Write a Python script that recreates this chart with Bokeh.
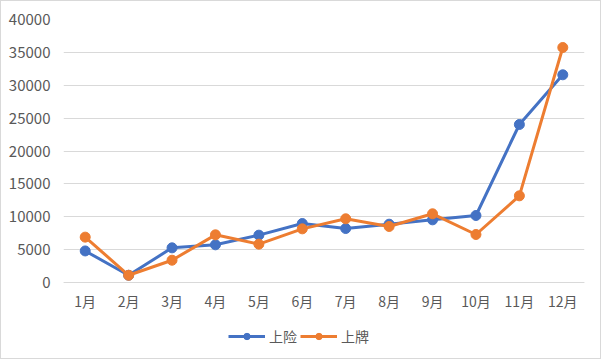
from bokeh.plotting import figure
from bokeh.models import FixedTicker, NumeralTickFormatter, Legend, LegendItem, Range1d, FactorRange
from bokeh.embed import file_html
from bokeh.resources import INLINE

months = ["1月", "2月", "3月", "4月", "5月", "6月", "7月", "8月", "9月", "10月", "11月", "12月"]
shangxian = [4800, 1100, 5270, 5730, 7200, 8970, 8210, 8870, 9530, 10190, 24030, 31590]
shangpai = [6900, 1100, 3390, 7250, 5830, 8160, 9690, 8520, 10450, 7300, 13180, 35740]
y_ticks = list(range(0, 40001, 5000))

FONT = "Noto Sans CJK SC"
GRAY = "#595959"
BLUE = "#4472C4"
ORANGE = "#ED7D31"

# frame extends below zero so that the legend sits inside it
Y_MAX = 40000
Y_MIN = -Y_MAX * 78 / 263

p = figure(width=601, height=359,
           x_range=FactorRange(*months, range_padding=0),
           y_range=Range1d(Y_MIN, Y_MAX), output_backend="svg", toolbar_location=None,
           min_border_left=62, min_border_right=18, min_border_top=18, min_border_bottom=0,
           styles={"border": "1px solid #d9d9d9"})
p.outline_line_color = None
p.background_fill_color = "white"
p.border_fill_color = "white"

p.xgrid.grid_line_color = None
p.ygrid.ticker = FixedTicker(ticks=y_ticks)
p.ygrid.grid_line_color = "#d9d9d9"
p.ygrid.grid_line_width = 1

p.yaxis.ticker = FixedTicker(ticks=y_ticks)
p.yaxis.formatter = NumeralTickFormatter(format="0")
p.yaxis.axis_line_color = None
p.yaxis.major_tick_line_color = None
p.yaxis.minor_tick_line_color = None
p.yaxis.major_label_standoff = 7
p.yaxis.major_label_text_font_size = "15px"
p.xaxis.fixed_location = 0
p.xaxis.axis_line_color = "#d9d9d9"
p.xaxis.major_tick_line_color = None
p.xaxis.minor_tick_line_color = None
p.xaxis.major_label_standoff = 2
p.xaxis.major_label_text_font_size = "14px"
for ax in (p.xaxis, p.yaxis):
    ax.major_label_text_font = FONT
    ax.major_label_text_color = GRAY

l1 = p.line(months, shangxian, line_color=BLUE, line_width=3)
s1 = p.scatter(months, shangxian, size=10, fill_color=BLUE, line_color=BLUE)
l2 = p.line(months, shangpai, line_color=ORANGE, line_width=3)
s2 = p.scatter(months, shangpai, size=10, fill_color=ORANGE, line_color=ORANGE)

legend = Legend(items=[LegendItem(label="上险", renderers=[l1, s1]),
                       LegendItem(label="上牌", renderers=[l2, s2])],
                orientation="horizontal", location=(165, 14))
legend.border_line_color = None
legend.background_fill_alpha = 0
legend.padding = 0
legend.margin = 0
legend.spacing = 3
legend.glyph_width = 37
legend.glyph_height = 16
legend.label_standoff = 4
legend.label_text_font = FONT
legend.label_text_font_size = "14px"
legend.label_text_color = GRAY
p.add_layout(legend, "center")

open("out.html", "w").write(file_html(p, INLINE))
